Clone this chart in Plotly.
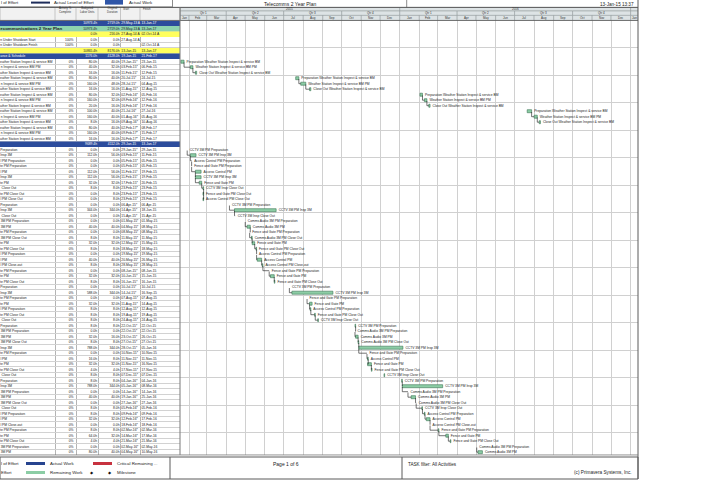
import pandas as pd
import plotly.graph_objects as go

W, H = 705, 498
FONT = "Liberation Sans, Arial, sans-serif"

# ------------------------------------------------------------------ data
# WBS / summary rows at the top of the layout
wbs_names = ["", "ecommunications 2 Year Plan", "", "n Under Shutdown Start",
             "n Under Shutdown Finish", "", "ance & Schedule"]
wbs_kind = ["blue", "green", "yellow", "white", "white", "yellow", "blue"]
wbs_pct = ["", "", "", "100%", "100%", "", ""]
wbs_units = ["10973.4h", "10973.4h", "0.0h", "0.0h", "0.0h", "10865.4h", "1176.0h"]
wbs_dur = ["2719.0h", "2719.0h", "216.0h", "0.0h", "0.0h", "8176.0h", "4128.0h"]
wbs_start = ["29-May-13 A", "29-May-13 A", "27-Aug-14 A", "27-Aug-14 A", "", "13-Jan-15", "19-Jan-15"]
wbs_finish = ["13-Jan-17", "13-Jan-17", "02-Oct-14 A", "", "02-Oct-14 A", "13-Jan-17", "21-Feb-17"]

# Weather station activities
ws_names = ["Preparation Weather Station Inspect & service BM",
            "Weather Station Inspect & service BM PM",
            "Close Out Weather Station Inspect & service BM"] * 5
ws_units = [80, 40, 16, 80, 160, 16, 80, 160, 20, 100, 160, 8, 80, 160, 16]
ws_dur = [40, 32, 16, 40, 48, 16, 32, 32, 16, 40, 40, 16, 40, 40, 16]
ws_start = ["2015-01-19", "2015-02-03", "2015-02-11", "2015-07-20", "2015-07-28", "2015-08-11",
            "2016-02-02", "2016-02-09", "2016-02-16", "2016-07-21", "2016-08-01", "2016-08-09",
            "2017-02-02", "2017-02-09", "2017-02-20"]
ws_finish = ["2015-01-23", "2015-02-06", "2015-02-12", "2015-07-24", "2015-08-04", "2015-08-12",
             "2016-02-05", "2016-02-12", "2016-02-17", "2016-07-27", "2016-08-05", "2016-08-10",
             "2017-02-08", "2017-02-15", "2017-02-21"]

# Second WBS summary row
s2_values = ["", "9689.4h", "4112.0h", "29-Jan-15", "13-Jan-17"]

# Security / CCTV activities
pm_names = [
    "CCTV 3M PM Preparation", "CCTV 3M PM Insp 3M", "Access Control PM Preparation",
    "Fence and Gate PM Preparation", "Access Control PM", "CCTV 3M PM Insp 3M",
    "Fence and Gate PM", "CCTV 3M Insp Close Out", "Fence and Gate PM Close Out",
    "Access Control PM Close Out", "CCTV 3M PM Preparation", "CCTV 3M PM Insp 3M",
    "CCTV 3M Insp Close Out", "Comms Audio 3M PM Preparation", "Comms Audio 3M PM",
    "Fence and Gate PM Preparation", "Comms Audio 3M PM Close Out", "Fence and Gate PM",
    "Fence and Gate PM Close Out", "Access Control PM Preparation", "Access Control PM",
    "Access Control PM Close-out", "Fence and Gate PM Preparation", "Fence and Gate PM",
    "Fence and Gate PM Close Out", "CCTV 3M PM Preparation", "CCTV 3M PM Insp 3M",
    "Fence and Gate PM Preparation", "Fence and Gate PM", "Access Control PM Preparation",
    "Fence and Gate PM Close Out", "CCTV 3M Insp Close Out", "CCTV 3M PM Preparation",
    "Comms Audio 3M PM Preparation", "Comms Audio 3M PM", "Comms Audio 3M PM Close Out",
    "CCTV 3M PM Insp 3M", "Fence and Gate PM Preparation", "Access Control PM",
    "Fence and Gate PM", "Fence and Gate PM Close Out", "CCTV 3M Insp Close Out",
    "CCTV 3M PM Preparation", "CCTV 3M PM Insp 3M", "Comms Audio 3M PM Preparation",
    "Comms Audio 3M PM", "Comms Audio 3M PM Close Out", "CCTV 3M Insp Close Out",
    "Access Control PM Preparation", "Access Control PM", "Access Control PM Close-out",
    "Fence and Gate PM Preparation", "Fence and Gate PM", "Fence and Gate PM Close Out",
    "Comms Audio 3M PM Preparation", "Comms Audio 3M PM"]
pm_units = [0, 112, 0, 0, 112, 112, 32, 8, 0, 0, 0, 344, 0, 0, 40, 0, 8, 32, 8, 0, 40, 8, 0, 32,
            8, 0, 588, 0, 32, 8, 8, 8, 8, 0, 32, 8, 788, 0, 16, 32, 4, 8, 8, 788, 0, 40, 0, 8,
            8, 32, 0, 8, 64, 4, 0, 80]
pm_dur = [0, 56, 0, 0, 56, 56, 32, 8, 8, 8, 0, 344, 0, 0, 40, 0, 8, 32, 8, 0, 40, 8, 0, 32,
          8, 0, 344, 0, 32, 8, 8, 8, 8, 0, 16, 8, 344, 0, 8, 32, 4, 8, 8, 344, 0, 40, 0, 8,
          8, 32, 0, 8, 32, 4, 0, 40]
pm_start = ["2015-01-29", "2015-02-03", "2015-02-05", "2015-02-05", "2015-02-11", "2015-02-11",
            "2015-02-17", "2015-02-23", "2015-02-23", "2015-02-23", "2015-04-06", "2015-04-14",
            "2015-04-15", "2015-05-01", "2015-05-04", "2015-05-08", "2015-05-11", "2015-05-12",
            "2015-05-18", "2015-05-19", "2015-05-20", "2015-05-28", "2015-06-08", "2015-06-10",
            "2015-06-16", "2015-07-10", "2015-07-14", "2015-08-07", "2015-08-11", "2015-08-12",
            "2015-08-19", "2015-08-24", "2015-10-22", "2015-10-22", "2015-10-23", "2015-10-27",
            "2015-10-28", "2015-11-10", "2015-11-11", "2015-11-11", "2015-11-17", "2015-12-07",
            "2016-01-04", "2016-01-05", "2016-01-14", "2016-01-19", "2016-01-27", "2016-02-05",
            "2016-02-09", "2016-02-12", "2016-02-18", "2016-03-02", "2016-03-14", "2016-03-21",
            "2016-05-02", "2016-05-04"]
pm_finish = ["2015-01-29", "2015-02-11", "2015-02-05", "2015-02-05", "2015-02-19", "2015-02-19",
             "2015-02-20", "2015-02-23", "2015-02-23", "2015-02-23", "2015-04-06", "2015-06-18",
             "2015-04-15", "2015-05-01", "2015-05-08", "2015-05-08", "2015-05-11", "2015-05-15",
             "2015-05-18", "2015-05-19", "2015-05-26", "2015-05-28", "2015-06-08", "2015-06-15",
             "2015-06-16", "2015-07-10", "2015-09-16", "2015-08-07", "2015-08-14", "2015-08-12",
             "2015-08-19", "2015-08-24", "2015-10-22", "2015-10-22", "2015-10-26", "2015-10-27",
             "2016-01-05", "2015-11-10", "2015-11-11", "2015-11-16", "2015-11-17", "2015-12-07",
             "2016-01-04", "2016-03-08", "2016-01-14", "2016-01-25", "2016-01-27", "2016-02-05",
             "2016-02-09", "2016-02-17", "2016-02-18", "2016-03-02", "2016-03-17", "2016-03-21",
             "2016-05-02", "2016-05-10"]

# timescale
view_start, view_end = "2015-01-17 14:00", "2017-01-12 16:00"
col_bounds = [55, 76, 98, 120.5, 140]

# ------------------------------------------------------------------ helpers
def X(p):
    return p / W


def Y(p):
    return 1 - p / H


def dfmt(s):
    return pd.Timestamp(s).strftime("%d-%b-%y")


# approximate Arial / Liberation Sans advance widths (per 1000 em)
_AW = {" ": 278, "&": 667, "-": 333, ".": 278}
for ch in "0123456789":
    _AW[ch] = 556
for ch, w in zip("ABCDEFGHIJKLMNOPQRSTUVWXYZ",
                 [667, 667, 722, 722, 667, 611, 778, 722, 278, 500, 667, 556, 833, 722, 778,
                  667, 778, 722, 667, 611, 722, 667, 944, 667, 667, 611]):
    _AW[ch] = w
for ch, w in zip("abcdefghijklmnopqrstuvwxyz",
                 [556, 556, 500, 556, 556, 278, 556, 556, 222, 222, 500, 222, 833, 556, 556,
                  556, 556, 333, 500, 278, 556, 500, 722, 500, 500, 500]):
    _AW[ch] = w


def visible_part(text, size, hidden_px, col_px):
    """Part of a left-aligned cell text that shows inside a column whose left
    part (hidden_px wide) lies off the printed page."""
    cw = [_AW.get(c, 556) * size / 1000.0 for c in text]
    i, used = 0, 0.0
    while i < len(text) and used + cw[i] / 2 < hidden_px:
        used += cw[i]
        i += 1
    while i < len(text) and text[i] == " ":
        used += cw[i]
        i += 1
    x0 = max(used - hidden_px, 0.05)
    j, acc = i, x0
    while j < len(text) and acc + cw[j] <= col_px:
        acc += cw[j]
        j += 1
    return text[i:j].rstrip(), x0


shapes, annotations = [], []


def prect(x0, y0, x1, y1, fill="rgba(0,0,0,0)", lc="rgba(0,0,0,0)", lw=0):
    shapes.append(dict(type="rect", xref="paper", yref="paper", x0=X(x0), x1=X(x1),
                       y0=Y(y1), y1=Y(y0), fillcolor=fill, line=dict(color=lc, width=lw),
                       layer="above"))


def pline(x0, y0, x1, y1, color="#6E6E6E", w=0.8):
    shapes.append(dict(type="line", xref="paper", yref="paper", x0=X(x0), x1=X(x1),
                       y0=Y(y0), y1=Y(y1), line=dict(color=color, width=w), layer="above"))


def ptext(x, y, s, size, anchor="left", color="#222", yanchor="middle"):
    annotations.append(dict(xref="paper", yref="paper", x=X(x), y=Y(y), text=s,
                            showarrow=False, xanchor=anchor, yanchor=yanchor, borderpad=0,
                            font=dict(size=size, color=color, family=FONT)))


# ------------------------------------------------------------------ assemble rows
rows = []
for i in range(len(wbs_names)):
    rows.append(dict(kind=wbs_kind[i], name=wbs_names[i], act=False, pct=wbs_pct[i],
                     units=wbs_units[i], dur=wbs_dur[i], start=wbs_start[i],
                     finish=wbs_finish[i]))
acts = []
for i in range(len(ws_names)):
    acts.append((len(rows), ws_names[i], ws_start[i], ws_finish[i], ws_dur[i], "ws"))
    rows.append(dict(kind="white", name=ws_names[i], act=True, pct="0%",
                     units=f"{ws_units[i]:.1f}h", dur=f"{ws_dur[i]:.1f}h",
                     start=dfmt(ws_start[i]) + "*", finish=dfmt(ws_finish[i])))
rows.append(dict(kind="blue", name=s2_values[0], act=False, pct="", units=s2_values[1],
                 dur=s2_values[2], start=s2_values[3], finish=s2_values[4]))
for i in range(len(pm_names)):
    acts.append((len(rows), pm_names[i], pm_start[i], pm_finish[i], pm_dur[i], "pm"))
    rows.append(dict(kind="white", name=pm_names[i], act=True, pct="0%",
                     units=f"{pm_units[i]:.1f}h", dur=f"{pm_dur[i]:.1f}h",
                     start=dfmt(pm_start[i]) + "*", finish=dfmt(pm_finish[i])))

N = len(rows)
ROW_H = 5.5
TOP = 20.45
BOT = TOP + N * ROW_H
ydom = [Y(BOT), Y(TOP)]
yidx = list(range(N))

fill_map = {"blue": "#2C4C9C", "green": "#8ED4AE", "yellow": "#FFFF5E", "white": "#FFFFFF"}
txt_col = ["#FFFFFF" if r["kind"] == "blue" else "#222222" for r in rows]

fig = go.Figure()

# row backgrounds in the table
colored = [i for i, r in enumerate(rows) if r["kind"] != "white"]
fig.add_trace(go.Bar(orientation="h", y=colored, x=[180] * len(colored), base=0, width=1,
                     marker=dict(color=[fill_map[rows[i]["kind"]] for i in colored],
                                 line=dict(width=0)),
                     xaxis="x", yaxis="y", hoverinfo="skip", showlegend=False))

# table text columns
TS = 3.3
cols = [("pct", 73.5, "middle left"), ("units", 97, "middle left"),
        ("dur", 119.5, "middle left"), ("start", 121.3, "middle right"),
        ("finish", 141.5, "middle right")]
for key, xpos, tp in cols:
    fig.add_trace(go.Scatter(x=[xpos] * N, y=yidx, text=[r[key] for r in rows], mode="text",
                             textposition=tp, textfont=dict(size=TS, color=txt_col, family=FONT),
                             xaxis="x", yaxis="y", hoverinfo="skip", showlegend=False))

# activity names: only the part that falls inside the printed name column
act_rows = [i for i, r in enumerate(rows) if r["act"]]
vis = [visible_part(rows[i]["name"], TS, 21.0, 54.5) for i in act_rows]
fig.add_trace(go.Scatter(x=[v[1] for v in vis], y=act_rows, text=[v[0] for v in vis],
                         mode="text", textposition="middle right", cliponaxis=False,
                         textfont=dict(size=TS, color="#222222", family=FONT),
                         xaxis="x", yaxis="y", hoverinfo="skip", showlegend=False))
wbs_rows = [i for i, r in enumerate(rows) if not r["act"] and r["name"]]
fig.add_trace(go.Scatter(x=[0.3] * len(wbs_rows), y=wbs_rows,
                         text=[("<b>%s</b>" % rows[i]["name"]) if rows[i]["kind"] == "green"
                               else rows[i]["name"] for i in wbs_rows],
                         mode="text", textposition="middle right", cliponaxis=False,
                         textfont=dict(size=[4.4 if rows[i]["kind"] == "green" else TS
                                             for i in wbs_rows],
                                       color=[txt_col[i] for i in wbs_rows], family=FONT),
                         xaxis="x", yaxis="y", hoverinfo="skip", showlegend=False))

# ------------------------------------------------------------------ gantt
day = pd.Timedelta(days=1)
v0, v1 = pd.Timestamp(view_start), pd.Timestamp(view_end)
bar_y, bar_base, bar_len = [], [], []
lab_x, lab_y, lab_t = [], [], []
link_x, link_y = [], []
ends = {}
for (ri, name, s, f, d, grp) in acts:
    s_t, f_t = pd.Timestamp(s), pd.Timestamp(f)
    e_t = f_t + day if d > 0 else s_t
    ends[ri] = (s_t, e_t, grp)
    if d > 0:
        bar_y.append(ri)
        bar_base.append(s_t.strftime("%Y-%m-%d"))
        bar_len.append((e_t - s_t).total_seconds() * 1000)
    lx = e_t + 4 * day
    if lx < v1:  # labels of activities past the printed timescale are off the page
        lab_x.append(lx.strftime("%Y-%m-%d %H:%M"))
        lab_y.append(ri)
        lab_t.append(name)

for (ri, name, s, f, d, grp) in acts:
    if ri - 1 in ends and ends[ri - 1][2] == grp:
        ps, pe, _ = ends[ri - 1]
        cs = ends[ri][0]
        xf = pe if pe <= cs + day else ps
        gap = (cs - xf).days
        if -1 <= gap <= 14:
            link_x += [xf.strftime("%Y-%m-%d %H:%M"), xf.strftime("%Y-%m-%d %H:%M"),
                       cs.strftime("%Y-%m-%d %H:%M"), None]
            link_y += [ri - 1 + 0.15, ri, ri, None]

fig.add_trace(go.Scatter(x=link_x, y=link_y, mode="lines",
                         line=dict(color="#1A1A1A", width=0.6),
                         xaxis="x2", yaxis="y3", hoverinfo="skip", showlegend=False))
fig.add_trace(go.Bar(orientation="h", y=bar_y, base=bar_base, x=bar_len, width=0.55,
                     marker=dict(color="#8CCDA5", line=dict(color="#3D7556", width=0.6)),
                     xaxis="x2", yaxis="y3", hoverinfo="skip", showlegend=False))
fig.add_trace(go.Scatter(x=lab_x, y=lab_y, text=lab_t, mode="text",
                         textposition="middle right", cliponaxis=False,
                         textfont=dict(size=TS, color="#222222", family=FONT),
                         xaxis="x2", yaxis="y3", hoverinfo="skip", showlegend=False))

# ------------------------------------------------------------------ timescale header


def clamp(t):
    return min(max(t, v0), v1)


def band(starts, fmt_fn, ytop, ybot, min_days):
    for a, b in zip(starts[:-1], starts[1:]):
        ca, cb = clamp(a), clamp(b)
        if cb <= ca:
            continue
        shapes.append(dict(type="rect", xref="x2", yref="paper",
                           x0=ca.strftime("%Y-%m-%d %H:%M"), x1=cb.strftime("%Y-%m-%d %H:%M"),
                           y0=Y(ybot), y1=Y(ytop), fillcolor="#DDE3E5",
                           line=dict(color="#8C9496", width=0.5), layer="above"))
        if (cb - ca).days >= min_days:
            mid = ca + (cb - ca) / 2
            annotations.append(dict(xref="x2", yref="paper", x=mid.strftime("%Y-%m-%d %H:%M"),
                                    y=Y((ytop + ybot) / 2), text=fmt_fn(a), showarrow=False,
                                    xanchor="center", yanchor="middle", borderpad=0,
                                    font=dict(size=3.0, color="#333", family=FONT)))


months = pd.date_range("2015-01-01", "2017-03-01", freq="MS")
quarters = pd.date_range("2015-01-01", "2017-04-01", freq="QS")
years = pd.date_range("2015-01-01", "2018-01-01", freq="YS")
band(years, lambda t: t.strftime("%Y"), 7.4, 11.0, 20)
band(quarters, lambda t: "Qtr %d" % t.quarter, 11.0, 15.4, 15)
band(months, lambda t: t.strftime("%b"), 15.4, TOP, 5)

# table header
prect(0, 7.4, 180, TOP, fill="#F1F1F1", lc="#8C8C8C", lw=0.5)
for cb in col_bounds:
    pline(cb, 7.4, cb, TOP, "#9A9A9A", 0.5)
ptext(65.5, 10.3, "Activity %<br>Complete", 2.8, "center", "#333")
ptext(87, 10.3, "Budgeted<br>Labor Units", 2.8, "center", "#333")
ptext(118.5, 10.3, "Original<br>Duration", 2.8, "right", "#333")
ptext(121.5, 9.2, "Start", 2.8, "left", "#333")
ptext(141.5, 9.2, "Finish", 2.8, "left", "#333")

# top strip: legend, title, date
pline(0, 6.9, 172.5, 6.9, "#6E6E6E", 0.8)
pline(172.5, 0, 172.5, 6.9, "#6E6E6E", 0.8)
ptext(0, 2.6, "l of Effort", 4.3)
prect(31, 1.6, 50, 3.6, fill="#1E2C5A")
ptext(53, 2.6, "Actual Level of Effort", 4.3)
prect(105, 0, 123, 4.6, fill="#2F56A8")
ptext(128, 2.6, "Actual Work", 4.3)
ptext(290, 3.6, "Telecomms 2 Year Plan", 5.0, "center", "#222")
pline(406.7, 0, 406.7, 7.4, "#6E6E6E", 0.8)
ptext(635, 4.2, "13-Jan-15 13:37", 4.6, "right", "#222")

# frame lines
pline(0, 7.4, 638, 7.4, "#5A5A5A", 1)
pline(0, TOP, 638, TOP, "#5A5A5A", 0.8)
pline(180, 7.4, 180, BOT, "#7A7A7A", 1)
pline(638, 0, 638, 479, "#5A5A5A", 1)
pline(0, BOT, 638, BOT, "#7A7A7A", 0.8)

# footer
prect(0, 457, 638, 479, lc="#5A5A5A", lw=1)
pline(170, 457, 170, 479, "#5A5A5A", 1)
pline(402, 457, 402, 479, "#5A5A5A", 1)
ptext(0, 463.5, "l of Effort", 4.4)
prect(26, 462, 45, 465, fill="#27448F")
ptext(49, 463.5, "Actual Work", 4.4)
prect(93, 462, 112, 465, fill="#C7323F")
ptext(116, 463.5, "Critical Remaining ...", 4.4)
ptext(0, 472.5, "Effort", 4.4)
prect(26, 471, 45, 474, fill="#8CCDA5")
ptext(49, 472.5, "Remaining Work", 4.4)
ptext(92, 472.5, "\u25c6", 4.0, "center", "#111")
ptext(110, 472.5, "\u25c6", 4.0, "center", "#111")
ptext(116, 472.5, "Milestone", 4.4)
ptext(286, 464, "Page 1 of 6", 5.0, "center", "#222")
ptext(407, 464, "TASK filter: All Activities", 4.6)
ptext(633, 472, "(c) Primavera Systems, Inc.", 4.7, "right")

# ------------------------------------------------------------------ axes
grid_months = [m.strftime("%Y-%m-%d") for m in months]
fig.update_layout(
    width=W, height=H, margin=dict(l=0, r=0, t=0, b=0),
    paper_bgcolor="white", plot_bgcolor="rgba(0,0,0,0)",
    showlegend=False, barmode="overlay",
    shapes=shapes, annotations=annotations,
    xaxis=dict(domain=[0, X(180)], range=[0, 180], tickvals=col_bounds, showgrid=True,
               gridcolor="#B4B4B4", gridwidth=0.5, showticklabels=False, ticks="",
               zeroline=False, showline=False, fixedrange=True),
    xaxis2=dict(type="date", domain=[X(180), X(638)], range=[view_start, view_end],
                tickvals=grid_months, showgrid=True, gridcolor="#D0D0D0", gridwidth=0.6,
                showticklabels=False, ticks="", zeroline=False, showline=False,
                anchor="y3", fixedrange=True),
    yaxis=dict(domain=ydom, range=[N - 0.5, -0.5], tickvals=[k + 0.5 for k in range(-1, N)],
               showgrid=True, gridcolor="#D2D2D2", gridwidth=0.5, showticklabels=False,
               ticks="", zeroline=False, showline=False, anchor="x", fixedrange=True),
    yaxis3=dict(domain=ydom, range=[N - 0.5, -0.5],
                tickvals=[k - 0.5 for k in range(5, N, 5)], showgrid=True,
                gridcolor="#D0D0D0", gridwidth=0.6, showticklabels=False, ticks="",
                zeroline=False, showline=False, anchor="x2", fixedrange=True),
)

fig.write_html("out.html")
